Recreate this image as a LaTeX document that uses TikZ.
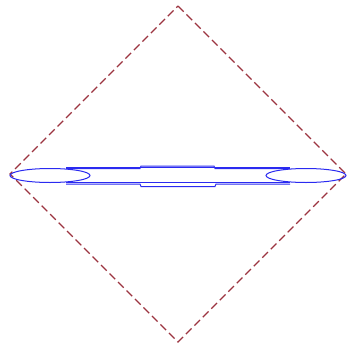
\documentclass[tikz,border=0pt]{standalone}
\usetikzlibrary{calc}
\definecolor{RimRed}{HTML}{9C3440}
\definecolor{FlowBlue}{HTML}{2A2AF0}

\begin{document}
\begin{tikzpicture}[
  x=1pt,y=-1pt,
  rim/.style={draw=RimRed,dashed,dash pattern=on 8pt off 4pt,line width=1.2pt},
  flow/.style={draw=FlowBlue,line width=1pt},
]
\useasboundingbox (0,0) rectangle (348,348);
% conformal boundary
\coordinate (top) at (178,6);
\coordinate (rgt) at (346,174);
\coordinate (bot) at (178,342);
\coordinate (lft) at (10,174);
\draw[rim] (top) -- (rgt) -- (bot) -- (lft) -- cycle;
% surfaces
\draw[flow] (50,175.5) ellipse [x radius=40,y radius=7];
\draw[flow] (306,175.5) ellipse [x radius=40,y radius=7];
\draw[flow] (66,168.5) -- (140,168.5) -- (141,166) -- (214,166) -- (215,168.5) -- (290,168.5);
\draw[flow] (66,167) -- (290,167);
\draw[flow] (66,182.5) -- (290,182.5);
\draw[flow] (66,184) -- (140,184) -- (141,186.5) -- (215,186.5) -- (216,184) -- (290,184);
\end{tikzpicture}
\end{document}
